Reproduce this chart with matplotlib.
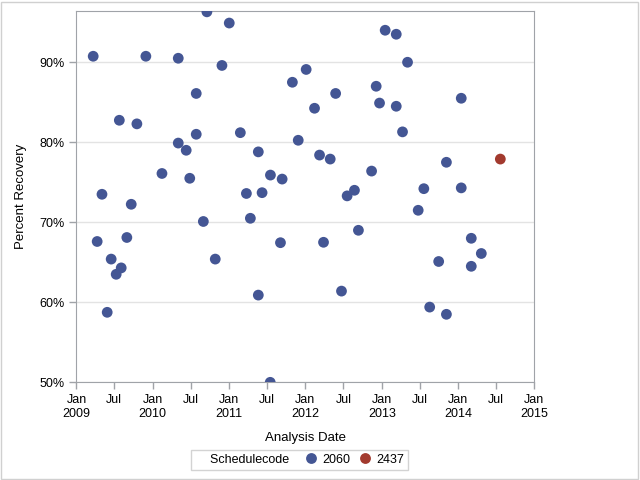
#!/usr/bin/env python3
# coding: utf-8
"""Percent recovery by analysis date, coloured by schedule code."""
import datetime

import matplotlib
matplotlib.use('AGG')
import matplotlib.dates as mdates
import matplotlib.pyplot as plt
from matplotlib.lines import Line2D
from matplotlib.patches import Rectangle
from matplotlib.ticker import FuncFormatter

plt.rcParams['font.family'] = ['Liberation Sans', 'DejaVu Sans']

# Schedule code 2060
dates_2060 = [
    '2009-03-22', '2009-04-10', '2009-05-03', '2009-05-28', '2009-06-16',
    '2009-07-10', '2009-07-25', '2009-08-03', '2009-08-30', '2009-09-20',
    '2009-10-17', '2009-11-29', '2010-02-14', '2010-05-03', '2010-05-03',
    '2010-06-10', '2010-06-27', '2010-07-28', '2010-07-28', '2010-08-31',
    '2010-09-17', '2010-10-27', '2010-11-28', '2011-01-02', '2011-02-24',
    '2011-03-25', '2011-04-13', '2011-05-21', '2011-05-21', '2011-06-08',
    '2011-07-18', '2011-07-17', '2011-09-04', '2011-09-12', '2011-10-31',
    '2011-11-28', '2012-01-05', '2012-02-14', '2012-03-09', '2012-03-28',
    '2012-04-29', '2012-05-25', '2012-06-22', '2012-07-19', '2012-08-23',
    '2012-09-11', '2012-11-13', '2012-12-05', '2012-12-21', '2013-01-17',
    '2013-03-11', '2013-03-11', '2013-04-10', '2013-05-04', '2013-06-24',
    '2013-07-21', '2013-08-18', '2013-09-30', '2013-11-06', '2013-11-06',
    '2014-01-16', '2014-01-16', '2014-03-05', '2014-03-05', '2014-04-22',
]
recovery_2060 = [
    90.75, 67.6, 73.5, 58.75, 65.4,
    63.5, 82.75, 64.3, 68.1, 72.25,
    82.3, 90.75, 76.1, 79.9, 90.5,
    79.0, 75.5, 86.1, 81.0, 70.1,
    96.3, 65.4, 89.6, 94.9, 81.2,
    73.6, 70.5, 78.8, 60.9, 73.7,
    75.9, 50.0, 67.45, 75.4, 87.5,
    80.25, 89.1, 84.25, 78.4, 67.5,
    77.9, 86.1, 61.4, 73.3, 74.0,
    69.0, 76.4, 87.0, 84.9, 94.0,
    93.5, 84.5, 81.3, 90.0, 71.5,
    74.2, 59.4, 65.1, 77.5, 58.5,
    85.5, 74.3, 68.0, 64.5, 66.1,
]

# Schedule code 2437
dates_2437 = ['2014-07-22']
recovery_2437 = [77.9]

y_ticks = [50, 60, 70, 80, 90]


def to_dates(values):
    return [datetime.datetime.strptime(v, '%Y-%m-%d') for v in values]


def date_label(x, pos):
    d = mdates.num2date(x)
    if d.month == 1:
        return d.strftime('%b\n%Y')
    return d.strftime('%b')


fig = plt.figure(figsize=(6.4, 4.8), dpi=100)
ax = fig.add_axes([0.1195, 0.2035, 0.7155, 0.7735])

ax.scatter(to_dates(dates_2060), recovery_2060, s=60, color='#445694',
           edgecolors='none', zorder=3)
ax.scatter(to_dates(dates_2437), recovery_2437, s=60, color='#A23A2E',
           edgecolors='none', zorder=3)

ax.set_xlim(datetime.datetime(2009, 1, 1), datetime.datetime(2015, 1, 1))
ax.set_ylim(50, 96.4)

# Half-year ticks, year shown under each January
ax.xaxis.set_major_locator(mdates.MonthLocator(bymonth=[1, 7]))
ax.xaxis.set_major_formatter(FuncFormatter(date_label))
ax.set_yticks(y_ticks)
ax.yaxis.set_major_formatter(FuncFormatter(lambda v, pos: '%d%%' % v))

ax.grid(axis='y', color='#e3e3e3', lw=1)
ax.set_axisbelow(True)
for spine in ax.spines.values():
    spine.set_color('#a0a3a8')
ax.tick_params(length=5, color='#a0a3a8', labelsize=9, labelcolor='black',
               width=1)

ax.set_xlabel('Analysis Date', fontsize=9.5, labelpad=9)
ax.set_ylabel('Percent Recovery', fontsize=9.5, labelpad=9)

# Legend with the group name as the first entry
handles = [
    Line2D([], [], linestyle='none', marker=None),
    Line2D([], [], linestyle='none', marker='o', markersize=7.8,
           color='#445694', markeredgewidth=0),
    Line2D([], [], linestyle='none', marker='o', markersize=7.8,
           color='#A23A2E', markeredgewidth=0),
]
leg = fig.legend(handles, ['Schedulecode  ', '2060', '2437'], ncol=3,
                 loc='center', bbox_to_anchor=(0.468, 0.042), fontsize=9,
                 frameon=True, fancybox=False, handlelength=0.7,
                 handletextpad=0.55, columnspacing=0.85, borderpad=0.3)
leg.get_frame().set_edgecolor('#c8c8c8')
leg.get_frame().set_linewidth(1)
leg.legend_handles[0].set_visible(False)

# Thin frame round the whole picture
fig.patches.append(Rectangle((1 / 640, 1 / 480), 637 / 640, 477 / 480,
                             transform=fig.transFigure, fill=False,
                             edgecolor='#d0d0d0', lw=1))

fig.savefig('out.png', dpi=100)
